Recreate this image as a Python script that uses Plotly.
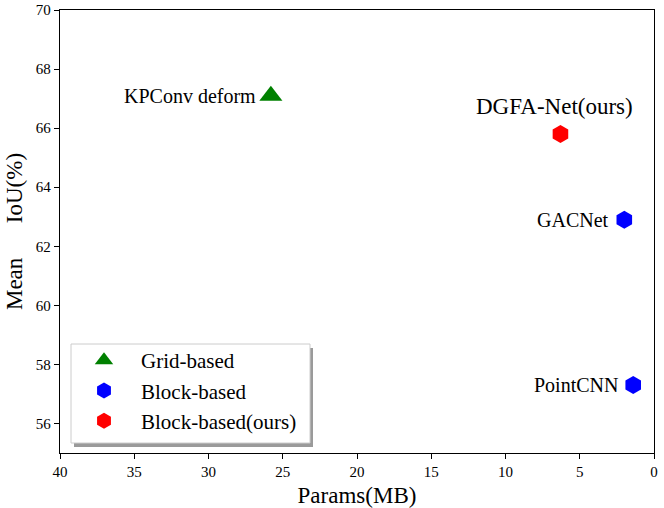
import plotly.graph_objects as go

# ── DATA ──────────────────────────────────────────────────────────────────────

GRID_NAMES  = ["KPConv deform"]
GRID_PARAMS = [25.8]
GRID_MIOU   = [67.1]

BLOCK_NAMES  = ["GACNet", "PointCNN"]
BLOCK_PARAMS = [2.0, 1.4]
BLOCK_MIOU   = [62.9, 57.3]

OURS_NAMES  = ["DGFA-Net(ours)"]
OURS_PARAMS = [6.3]
OURS_MIOU   = [65.8]

X_TICKS = [40, 35, 30, 25, 20, 15, 10, 5, 0]
Y_TICKS = [56, 58, 60, 62, 64, 66, 68, 70]

FONT = "Liberation Serif, Times New Roman, serif"

# ── FIGURE ────────────────────────────────────────────────────────────────────

fig = go.Figure()

fig.add_trace(go.Scatter(
    x=GRID_PARAMS, y=GRID_MIOU, mode="markers", name="Grid-based",
    marker=dict(symbol="triangle-up", size=20, color="#008000"),
))
fig.add_trace(go.Scatter(
    x=BLOCK_PARAMS, y=BLOCK_MIOU, mode="markers", name="Block-based",
    marker=dict(symbol="hexagon", size=18, color="#0000ff"),
))
fig.add_trace(go.Scatter(
    x=OURS_PARAMS, y=OURS_MIOU, mode="markers", name="Block-based(ours)",
    marker=dict(symbol="hexagon", size=18, color="#ff0000"),
))

# point labels, left of the marker
for names, xs, ys in [(GRID_NAMES, GRID_PARAMS, GRID_MIOU),
                      (BLOCK_NAMES, BLOCK_PARAMS, BLOCK_MIOU)]:
    for n, x, y in zip(names, xs, ys):
        fig.add_annotation(x=x, y=y, text=n, showarrow=False,
                           xanchor="right", yanchor="middle", xshift=-13,
                           font=dict(family=FONT, size=20, color="black"))

# our model, label above
for n, x, y in zip(OURS_NAMES, OURS_PARAMS, OURS_MIOU):
    fig.add_annotation(x=x, y=y, text=n, showarrow=False,
                       xanchor="center", yanchor="bottom", xshift=-6, yshift=13,
                       font=dict(family=FONT, size=23, color="black"))

# legend frame with drop shadow (paper coords from plot-area pixels)
def px(v):
    return (v - 60) / 594

def py(v):
    return (453 - v) / 443

fig.add_shape(type="rect", xref="paper", yref="paper",
              x0=px(74), x1=px(313), y0=py(447), y1=py(348),
              fillcolor="#9a9a9a", line=dict(width=0), layer="above")
fig.add_shape(type="rect", xref="paper", yref="paper",
              x0=px(71), x1=px(310), y0=py(443), y1=py(344),
              fillcolor="white", line=dict(color="#cccccc", width=1), layer="above")

fig.update_layout(
    width=664, height=508,
    margin=dict(l=60, r=10, t=10, b=55),
    paper_bgcolor="white", plot_bgcolor="white",
    font=dict(family=FONT, color="black"),
    showlegend=True,
    legend=dict(
        x=px(67), y=py(340), xanchor="left", yanchor="top",
        bgcolor="rgba(0,0,0,0)", borderwidth=0,
        font=dict(family=FONT, size=21, color="black"),
        itemwidth=64, tracegroupgap=3,
    ),
    xaxis=dict(
        range=[40, 0], tickvals=X_TICKS, automargin=False,
        title=dict(text="Params(MB)", font=dict(family=FONT, size=23), standoff=8),
        tickfont=dict(family=FONT, size=15),
        showline=True, linecolor="black", linewidth=1.3, mirror=True,
        ticks="outside", ticklen=5, tickcolor="black",
        showgrid=False, zeroline=False,
    ),
    yaxis=dict(
        range=[55, 70], tickvals=Y_TICKS, automargin=False,
        title=dict(text="Mean\u00a0\u00a0\u00a0\u00a0\u00a0\u00a0IoU(%)",
                   font=dict(family=FONT, size=23), standoff=6),
        tickfont=dict(family=FONT, size=15),
        showline=True, linecolor="black", linewidth=1.3, mirror=True,
        ticks="outside", ticklen=5, tickcolor="black",
        showgrid=False, zeroline=False,
    ),
)

fig.write_html("out.html", config={"displayModeBar": False},
               post_script="document.body.style.margin='0';")
